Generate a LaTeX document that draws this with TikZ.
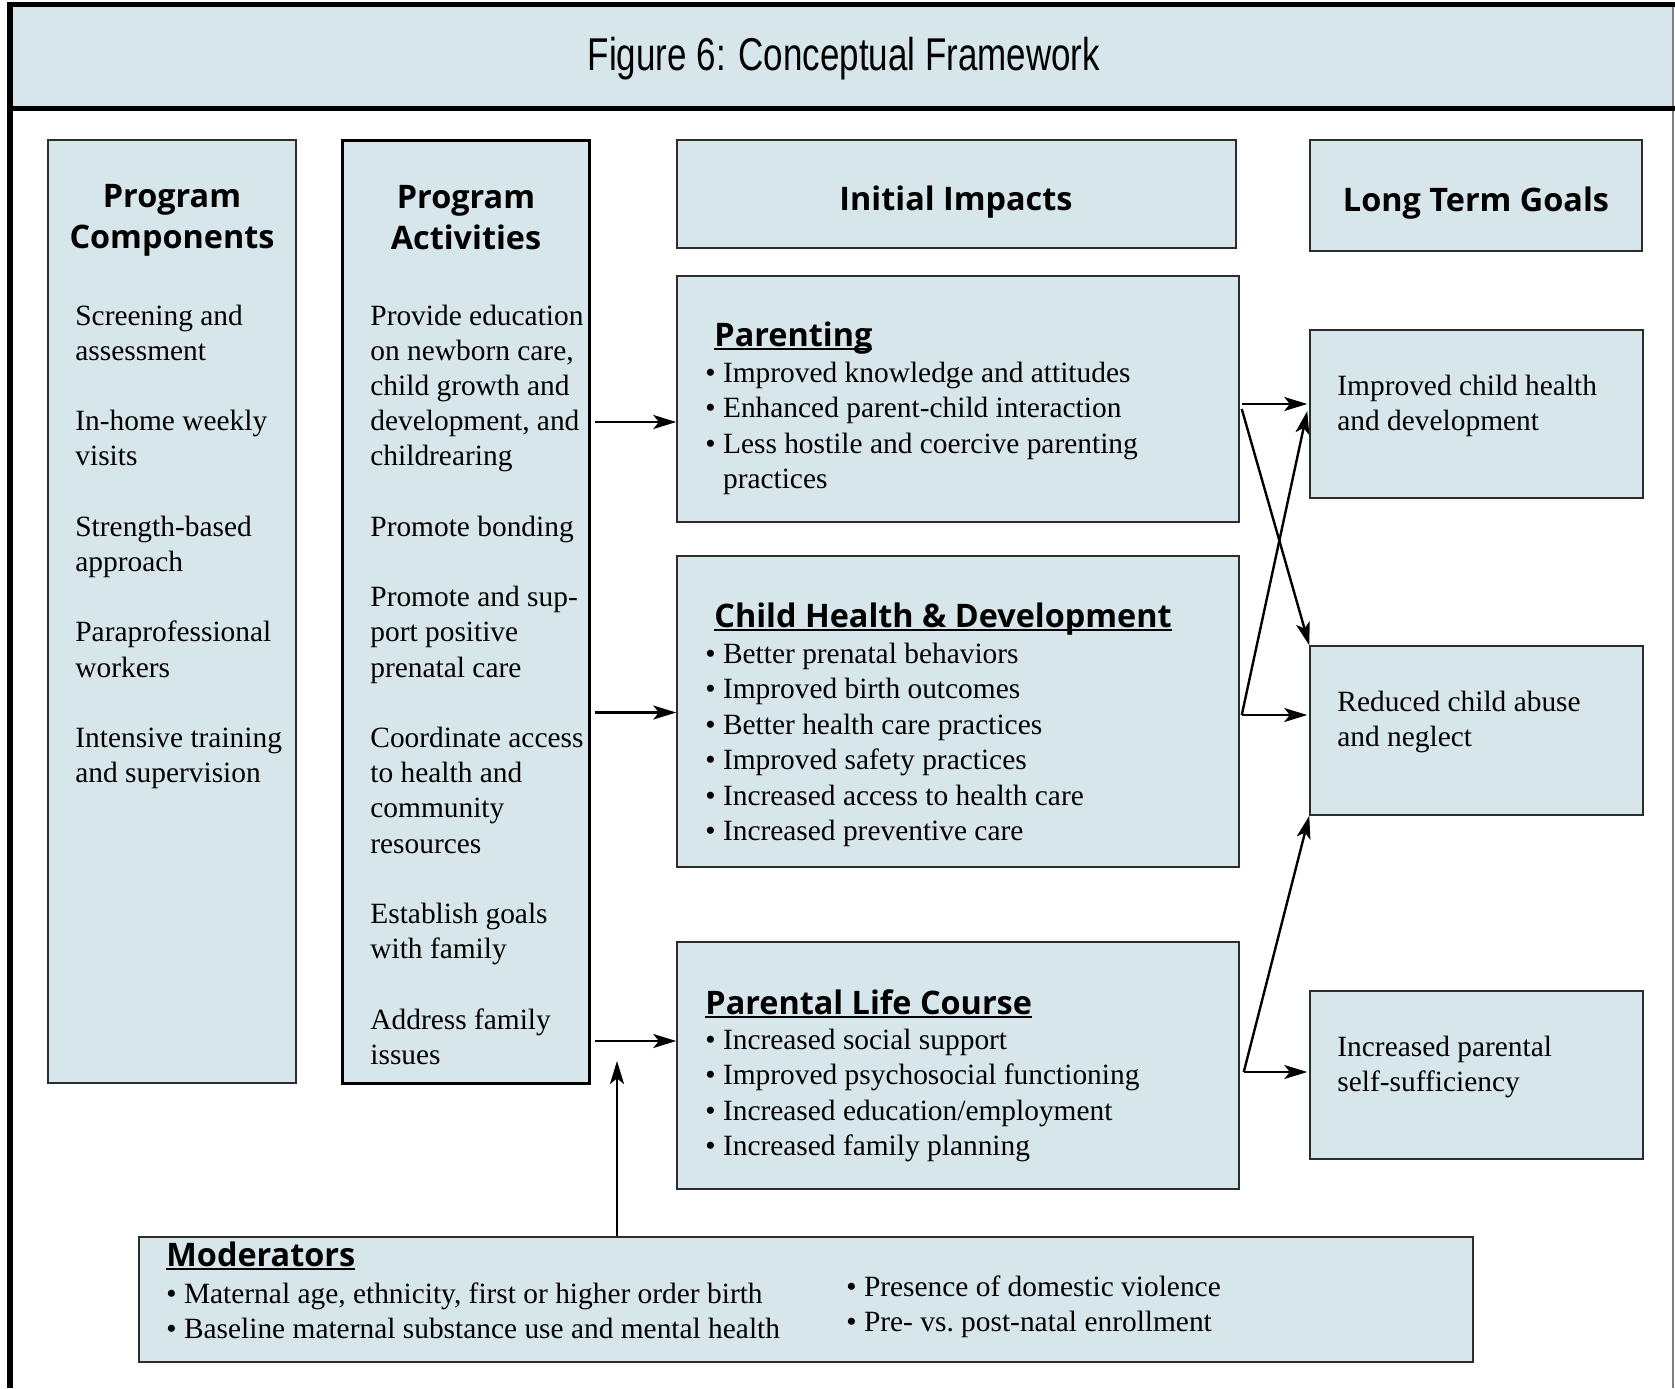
\documentclass[tikz,border=0pt]{standalone}
\usepackage{fontspec}
\setmainfont{Liberation Serif}
\newfontfamily\hdfont{Open Sans}
\newfontfamily\titlefont{Liberation Sans}[FakeStretch=0.76]
\usetikzlibrary{arrows.meta,fit}
\definecolor{boxfill}{RGB}{214,230,235}
\definecolor{boxline}{RGB}{45,45,45}
\newcommand\bsz{\fontsize{14.7}{17.6}\selectfont}
\newcommand\lsz{\fontsize{14.7}{17.75}\selectfont}
\newcommand\hsz{\hdfont\bfseries\fontsize{16.2}{20.5}\selectfont}
\newcommand\ulhd[1]{\setbox0\hbox{#1}\rlap{\rule[-2.2pt]{\wd0}{1pt}}\box0}
\newcommand\gap{\\[17.6pt]}
\begin{document}
\begin{tikzpicture}[x=0.5pt,y=-0.5pt,
  box/.style={draw=boxline, fill=boxfill, line width=0.75pt, inner sep=0pt},
  arr/.style={line width=1.2pt, -{Stealth[length=11.5pt,width=7pt,inset=2.8pt]}},
  txt/.style={inner sep=0pt, anchor=base west},
  hd/.style={inner sep=0pt, anchor=base, font=\hsz},
  shd/.style={inner sep=0pt, anchor=base west, font=\hsz}]
\useasboundingbox (0,0) rectangle (1675,1388);
\fill[white] (0,0) rectangle (1675,1388);
% frame and title band
\fill[boxfill] (10,4.5) rectangle (1673,108.5);
\draw[gray, line width=0.6pt] (1673,4.5) -- (1673,1388);
\draw[line width=2.7pt] (10,1388) -- (10,4.5) -- (1675,4.5);
\draw[line width=2.3pt] (10,108.5) -- (1675,108.5);
\node[font=\titlefont\fontsize{23}{26}\selectfont, anchor=base, inner sep=0pt] (title) at (844,70.5) {Figure 6: Conceptual Framework};

% columns
\node[box, fit={(48,140) (296,1083)}] (comp) {};
\node[box, draw=black, line width=1.5pt, fit={(342,140) (589,1083)}] (act) {};
\node[box, fit={(677,140) (1236,248)}] (iibox) {};
\node[box, fit={(1310,140) (1642,251)}] (ltbox) {};
\node[box, fit={(677,276) (1239,522)}] (par) {};
\node[box, fit={(677,556) (1239,867)}] (chd) {};
\node[box, fit={(677,942) (1239,1189)}] (plc) {};
\node[box, fit={(1310,330) (1643,498)}] (ich) {};
\node[box, fit={(1310,646) (1643,815)}] (rca) {};
\node[box, fit={(1310,991) (1643,1159)}] (ips) {};
\node[box, fit={(139,1237) (1473,1362)}] (mod) {};

% headers
\node[hd] (comph) at (172,207) {\parbox[t]{200pt}{\centering Program\\Components}};
\node[hd] (acth) at (466,208) {\parbox[t]{200pt}{\centering Program\\Activities}};
\node[hd] (iih) at (956,210) {Initial Impacts};
\node[hd] (lth) at (1476,211) {Long Term Goals};

% column texts
\node[txt] (compt) at (75,325) {\parbox[t]{150pt}{\raggedright\bsz
Screening and\\assessment\gap
In-home weekly\\visits\gap
Strength-based\\approach\gap
Paraprofessional\\workers\gap
Intensive training\\and supervision}};
\node[txt] (actt) at (370,325) {\parbox[t]{150pt}{\raggedright\bsz
Provide education\\on newborn care,\\child growth and\\development, and\\childrearing\gap
Promote bonding\gap
Promote and sup-\\port positive\\prenatal care\gap
Coordinate access\\to health and\\community\\resources\gap
Establish goals\\with family\gap
Address family\\issues}};

% impacts
\node[shd] (parh) at (714,346) {\ulhd{Parenting}};
\node[txt] (part) at (705,382) {\parbox[t]{300pt}{\raggedright\lsz
\textbullet\ Improved knowledge and attitudes\\
\textbullet\ Enhanced parent-child interaction\\
\textbullet\ Less hostile and coercive parenting\\
\phantom{\textbullet\ }practices}};
\node[shd] (chdh) at (714,627) {\ulhd{Child Health \& Development}};
\node[txt] (chdt) at (705,663) {\parbox[t]{300pt}{\raggedright\lsz
\textbullet\ Better prenatal behaviors\\
\textbullet\ Improved birth outcomes\\
\textbullet\ Better health care practices\\
\textbullet\ Improved safety practices\\
\textbullet\ Increased access to health care\\
\textbullet\ Increased preventive care}};
\node[shd] (plch) at (705,1014) {\ulhd{Parental Life Course}};
\node[txt] (plct) at (705,1049) {\parbox[t]{300pt}{\raggedright\lsz
\textbullet\ Increased social support\\
\textbullet\ Improved psychosocial functioning\\
\textbullet\ Increased education/employment\\
\textbullet\ Increased family planning}};

% goals
\node[txt] (icht) at (1337,395) {\parbox[t]{160pt}{\raggedright\bsz Improved child health\\and development}};
\node[txt] (rcat) at (1337,711.5) {\parbox[t]{160pt}{\raggedright\bsz Reduced child abuse\\and neglect}};
\node[txt] (ipst) at (1337,1056.5) {\parbox[t]{160pt}{\raggedright\bsz Increased parental\\self-sufficiency}};

% moderators
\node[shd] (modh) at (166,1266) {\ulhd{Moderators}};
\node[txt] (modt1) at (166,1303) {\parbox[t]{320pt}{\raggedright\bsz
\textbullet\ Maternal age, ethnicity, first or higher order birth\\
\textbullet\ Baseline maternal substance use and mental health}};
\node[txt] (modt2) at (846,1296) {\parbox[t]{260pt}{\raggedright\bsz
\textbullet\ Presence of domestic violence\\
\textbullet\ Pre- vs.\ post-natal enrollment}};

% arrows
\coordinate (ya) at (0,422);
\coordinate (yb) at (0,712.5);
\coordinate (yc) at (0,1041);
\draw[arr] ([xshift=2pt]act.east |- ya) -- (par.west |- ya);
\draw[arr] ([xshift=2pt]act.east |- yb) -- (chd.west |- yb);
\draw[arr] ([xshift=2pt]act.east |- yc) -- (plc.west |- yc);
\coordinate (modtip) at (617,1061);
\draw[arr] (mod.north -| modtip) -- (modtip);

\coordinate (y1) at (0,404);
\coordinate (y2) at (0,409);
\coordinate (y3) at (0,411);
\coordinate (y4) at (0,715);
\coordinate (y5) at (0,1072);
\draw[arr] ([xshift=1pt]par.east |- y1) -- ([xshift=-1pt]ich.west |- y1);
\draw[arr] ([xshift=1pt]par.east |- y2) -- (rca.north west);
\draw[arr] ([xshift=1pt]chd.east |- y4) -- ([xshift=-1pt]ich.west |- y3);
\draw[arr] ([xshift=1pt]chd.east |- y4) -- ([xshift=-1pt]rca.west |- y4);
\draw[arr] ([xshift=2pt]plc.east |- y5) -- (rca.south west);
\draw[arr] ([xshift=2pt]plc.east |- y5) -- ([xshift=-1pt]ips.west |- y5);
\end{tikzpicture}
\end{document}
